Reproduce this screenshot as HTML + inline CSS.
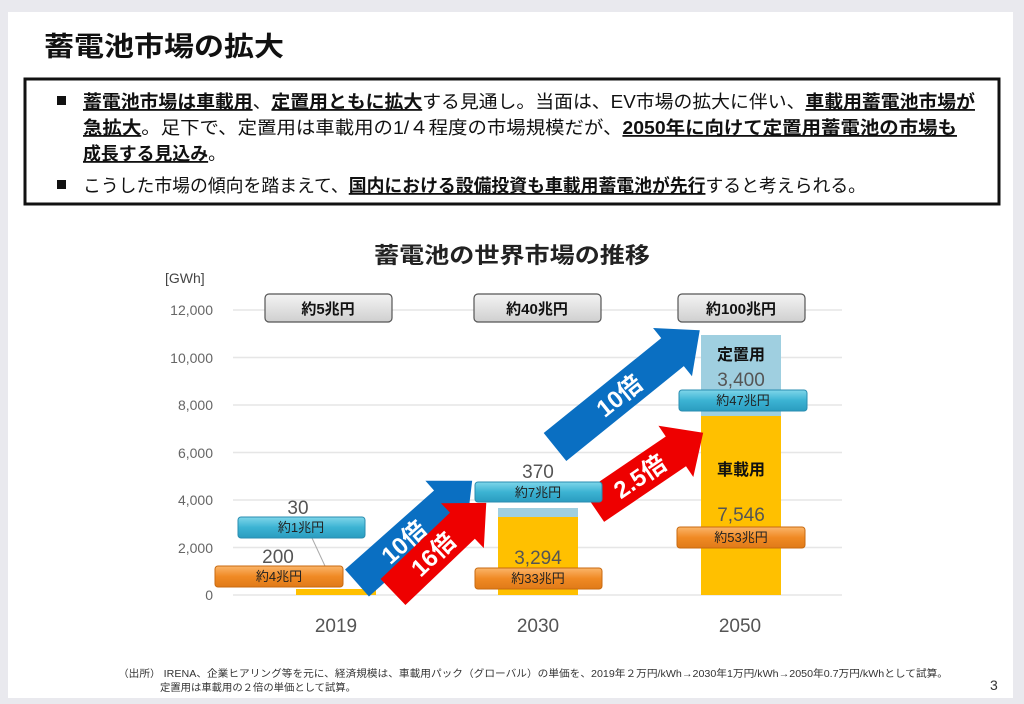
<!DOCTYPE html>
<html><head><meta charset="utf-8"><style>
body{margin:0;background:#e9e9ee;}
svg{display:block}
text{font-family:"Liberation Sans","Noto Sans CJK JP",sans-serif;}
</style></head><body>
<svg width="1024" height="704" viewBox="0 0 1024 704">
<defs>
<linearGradient id="gb" x1="0" y1="0" x2="0" y2="1"><stop offset="0" stop-color="#7fd6ea"/><stop offset="0.5" stop-color="#3cb3d3"/><stop offset="1" stop-color="#2a9cc0"/></linearGradient>
<linearGradient id="go" x1="0" y1="0" x2="0" y2="1"><stop offset="0" stop-color="#fbb56a"/><stop offset="0.5" stop-color="#f08a24"/><stop offset="1" stop-color="#e07a18"/></linearGradient>
<linearGradient id="gg" x1="0" y1="0" x2="0" y2="1"><stop offset="0" stop-color="#f4f4f4"/><stop offset="1" stop-color="#cfcfcf"/></linearGradient>
</defs>
<rect x="8" y="12" width="1005" height="686" fill="#fff"/>
<text x="44" y="56" font-size="27" font-weight="bold" fill="#111" textLength="240" lengthAdjust="spacingAndGlyphs">蓄電池市場の拡大</text>
<rect x="25" y="79" width="974" height="125" fill="#fff" stroke="#111" stroke-width="3"/>
<g font-size="18" fill="#111">
<rect x="57" y="96" width="9" height="9" fill="#111"/>
<text x="83" y="108" textLength="892" lengthAdjust="spacingAndGlyphs"><tspan font-weight="bold" text-decoration="underline">蓄電池市場は車載用</tspan>、<tspan font-weight="bold" text-decoration="underline">定置用ともに拡大</tspan>する見通し。当面は、EV市場の拡大に伴い、<tspan font-weight="bold" text-decoration="underline">車載用蓄電池市場が</tspan></text>
<text x="83" y="134" textLength="874" lengthAdjust="spacingAndGlyphs"><tspan font-weight="bold" text-decoration="underline">急拡大</tspan>。足下で、定置用は車載用の1/４程度の市場規模だが、<tspan font-weight="bold" text-decoration="underline">2050年に向けて定置用蓄電池の市場も</tspan></text>
<text x="83" y="160" textLength="143" lengthAdjust="spacingAndGlyphs"><tspan font-weight="bold" text-decoration="underline">成長する見込み</tspan>。</text>
<rect x="57" y="180" width="9" height="9" fill="#111"/>
<text x="83" y="192" textLength="783" lengthAdjust="spacingAndGlyphs">こうした市場の傾向を踏まえて、<tspan font-weight="bold" text-decoration="underline">国内における設備投資も車載用蓄電池が先行</tspan>すると考えられる。</text>
</g>
<text x="374" y="263" font-size="22" font-weight="bold" fill="#222" textLength="276" lengthAdjust="spacingAndGlyphs">蓄電池の世界市場の推移</text>
<text x="165" y="283" font-size="14" fill="#444">[GWh]</text>
<g stroke="#e6e6e6" stroke-width="1.5">
<line x1="233" y1="310" x2="842" y2="310"/><line x1="233" y1="357.5" x2="842" y2="357.5"/><line x1="233" y1="405" x2="842" y2="405"/><line x1="233" y1="452.5" x2="842" y2="452.5"/><line x1="233" y1="500" x2="842" y2="500"/><line x1="233" y1="547.5" x2="842" y2="547.5"/><line x1="233" y1="595" x2="842" y2="595"/>
</g>
<g font-size="14" fill="#666" text-anchor="end">
<text x="213" y="315">12,000</text><text x="213" y="363">10,000</text><text x="213" y="410">8,000</text><text x="213" y="458">6,000</text><text x="213" y="505">4,000</text><text x="213" y="553">2,000</text><text x="213" y="600">0</text>
</g>
<g font-size="19" fill="#555" text-anchor="middle">
<text x="336" y="632">2019</text><text x="538" y="632">2030</text><text x="740" y="632">2050</text>
</g>
<rect x="296" y="589" width="80" height="6" fill="#ffc000"/>
<rect x="498" y="517" width="80" height="78" fill="#ffc000"/>
<rect x="498" y="508" width="80" height="9" fill="#9fcfe0"/>
<rect x="701" y="416" width="80" height="179" fill="#ffc000"/>
<rect x="701" y="335" width="80" height="81" fill="#9fcfe0"/>
<line x1="312" y1="538" x2="325" y2="566" stroke="#aaa"/>
<g font-size="15" font-weight="bold" fill="#111" text-anchor="middle">
<rect x="265" y="294" width="127" height="28" rx="4" fill="url(#gg)" stroke="#555" stroke-width="1.2"/><text x="328" y="314">約5兆円</text>
<rect x="474" y="294" width="127" height="28" rx="4" fill="url(#gg)" stroke="#555" stroke-width="1.2"/><text x="537" y="314">約40兆円</text>
<rect x="678" y="294" width="127" height="28" rx="4" fill="url(#gg)" stroke="#555" stroke-width="1.2"/><text x="741" y="314">約100兆円</text>
</g>
<g transform="translate(357,583) rotate(-41.6)"><polygon points="0,-18 119,-18 119,-31 154,0 119,31 119,18 0,18" fill="#0a6fc2"/><text x="62" y="9" font-size="24" font-weight="bold" fill="#fff" text-anchor="middle">10倍</text></g>
<g transform="translate(393,592) rotate(-43.7)"><polygon points="0,-18 96,-18 96,-31 129,0 96,31 96,18 0,18" fill="#ee0000"/><text x="55" y="9" font-size="24" font-weight="bold" fill="#fff" text-anchor="middle">16倍</text></g>
<g transform="translate(555,447) rotate(-38.9)"><polygon points="0,-18 151,-18 151,-31 186,0 151,31 151,18 0,18" fill="#0a6fc2"/><text x="82" y="9" font-size="24" font-weight="bold" fill="#fff" text-anchor="middle">10倍</text></g>
<g transform="translate(594,507) rotate(-34.2)"><polygon points="0,-18 99,-18 99,-31 132,0 99,31 99,18 0,18" fill="#ee0000"/><text x="55" y="9" font-size="24" font-weight="bold" fill="#fff" text-anchor="middle">2.5倍</text></g>
<g font-size="19" fill="#555" text-anchor="middle">
<text x="298" y="514">30</text><text x="278" y="563">200</text>
<text x="538" y="478">370</text><text x="538" y="564">3,294</text>
<text x="741" y="386">3,400</text><text x="741" y="521">7,546</text>
</g>
<g font-size="16" font-weight="bold" fill="#111" text-anchor="middle">
<text x="741" y="360">定置用</text><text x="741" y="475">車載用</text>
</g>
<g font-size="13" fill="#222" text-anchor="middle">
<rect x="238" y="517" width="127" height="21" rx="3" fill="url(#gb)" stroke="#2a8db0"/><text x="301" y="532">約1兆円</text>
<rect x="215" y="566" width="128" height="21" rx="3" fill="url(#go)" stroke="#c86a10"/><text x="279" y="581">約4兆円</text>
<rect x="475" y="482" width="127" height="20" rx="3" fill="url(#gb)" stroke="#2a8db0"/><text x="538" y="497">約7兆円</text>
<rect x="475" y="568" width="127" height="21" rx="3" fill="url(#go)" stroke="#c86a10"/><text x="538" y="583">約33兆円</text>
<rect x="679" y="390" width="128" height="21" rx="3" fill="url(#gb)" stroke="#2a8db0"/><text x="743" y="405">約47兆円</text>
<rect x="677" y="527" width="128" height="21" rx="3" fill="url(#go)" stroke="#c86a10"/><text x="741" y="542">約53兆円</text>
</g>
<g font-size="10" fill="#333">
<text x="118" y="677" textLength="830" lengthAdjust="spacingAndGlyphs">（出所）  IRENA、企業ヒアリング等を元に、経済規模は、車載用パック（グローバル）の単価を、2019年２万円/kWh→2030年1万円/kWh→2050年0.7万円/kWhとして試算。</text>
<text x="160" y="691" textLength="196" lengthAdjust="spacingAndGlyphs">定置用は車載用の２倍の単価として試算。</text>
</g>
<text x="990" y="690" font-size="14" fill="#333">3</text>
</svg>
</body></html>
